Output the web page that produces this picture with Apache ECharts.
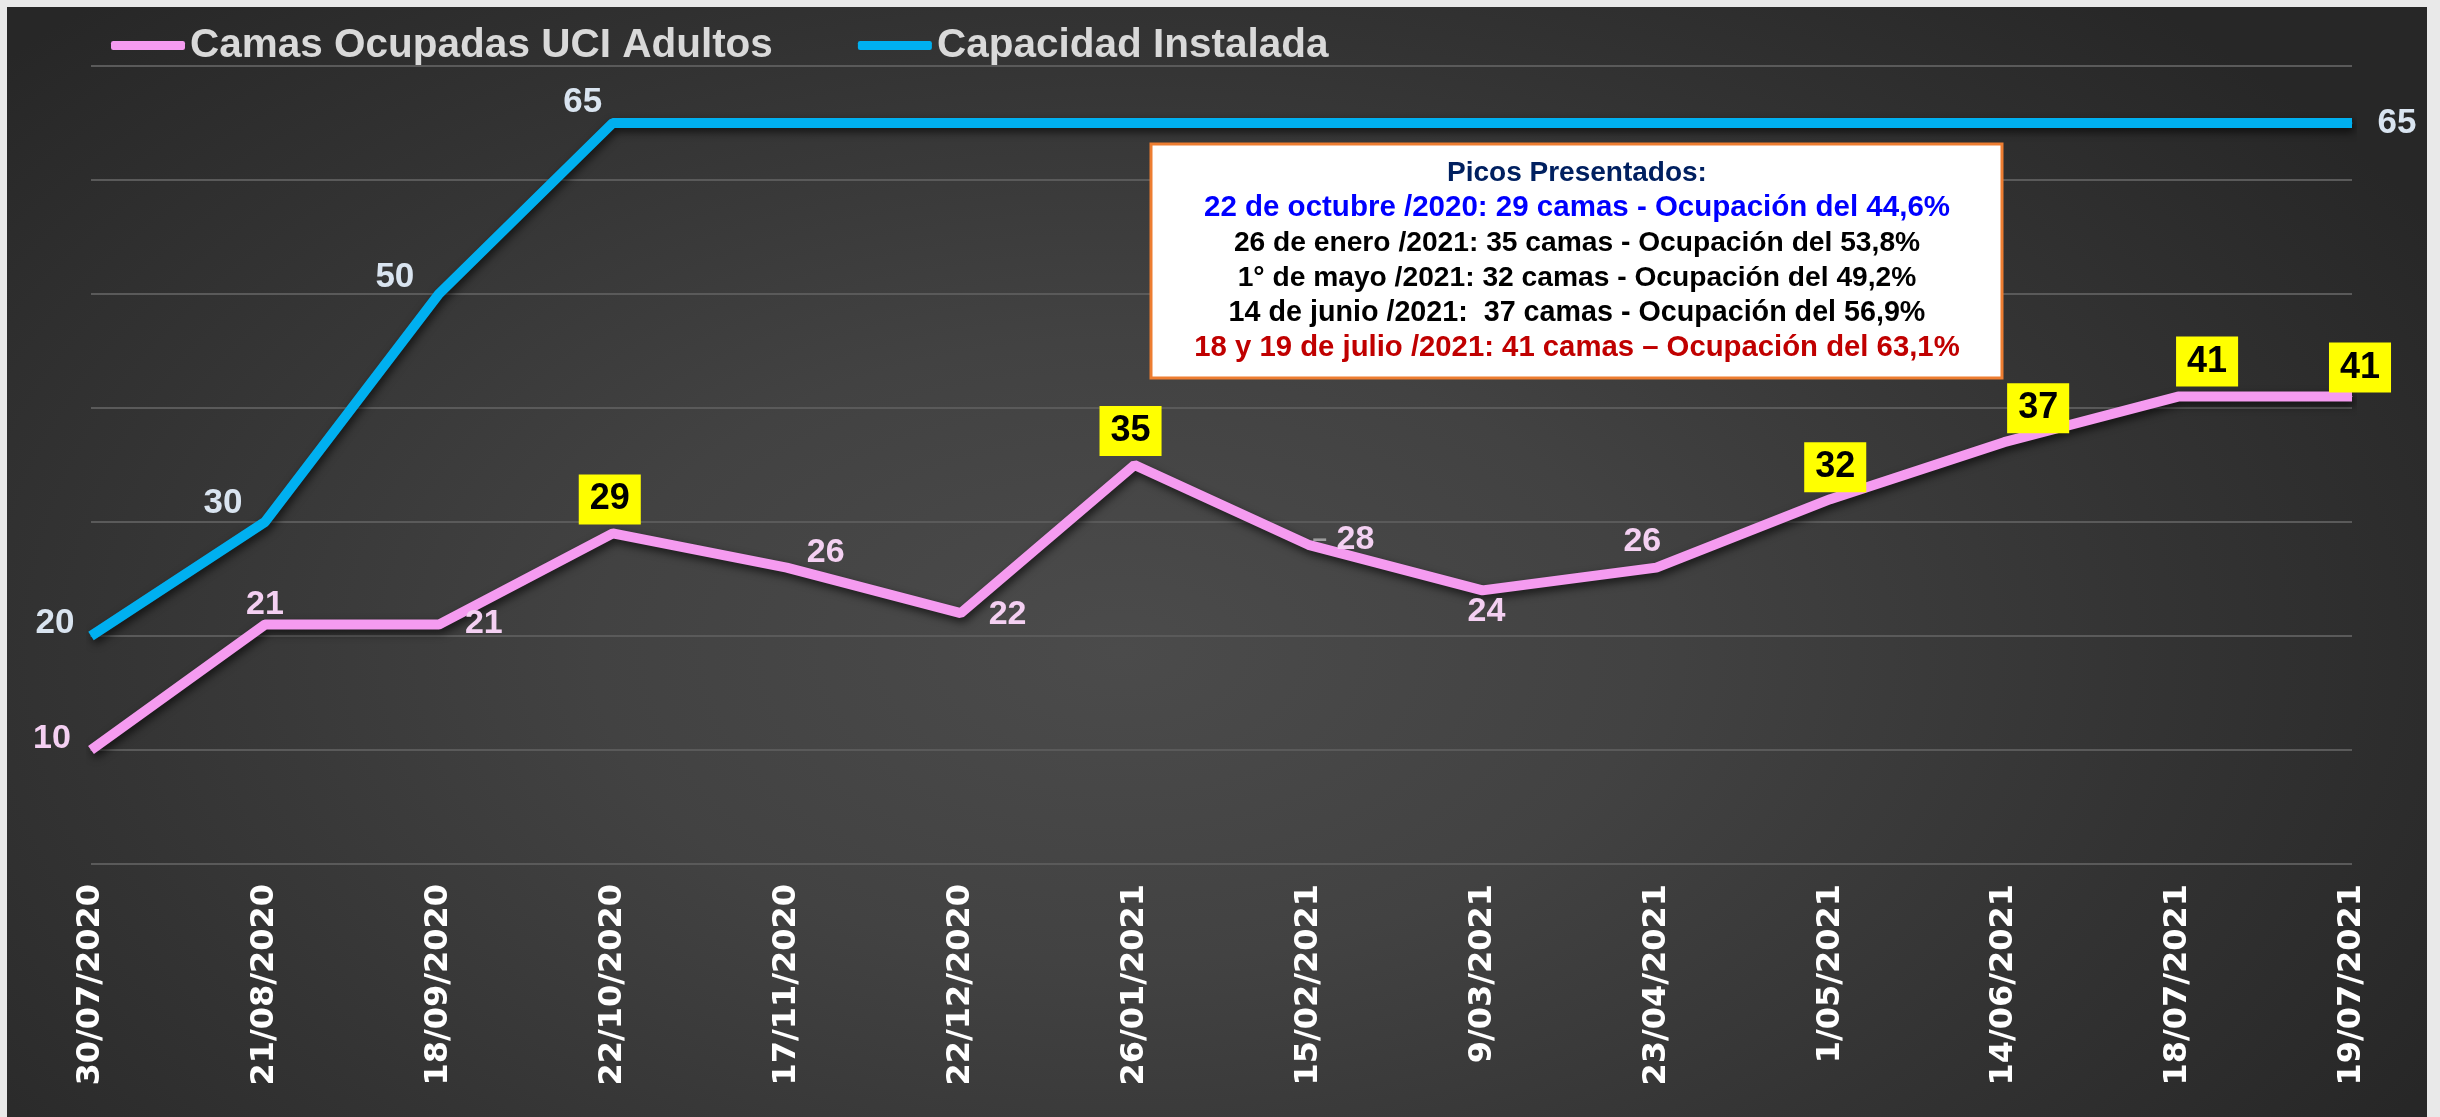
<!DOCTYPE html>
<html>
<head>
<meta charset="utf-8">
<title>Camas UCI Adultos</title>
<script src="https://cdn.jsdelivr.net/npm/echarts@6/dist/echarts.min.js"></script>
<style>
  html, body { margin: 0; padding: 0; background: #e9e9e9; }
  #wrap { position: relative; width: 2440px; height: 1117px; overflow: hidden; }
  #panel {
    position: absolute; left: 7px; top: 7px; width: 2420px; height: 1110px;
    background: radial-gradient(ellipse 62% 80% at 46% 58%, #4b4b4b 0%, #424242 35%, #333333 70%, #272727 100%);
  }
  #chart { position: absolute; left: 0; top: 0; width: 2440px; height: 1117px; }
</style>
</head>
<body>
<div id="wrap">
  <div id="panel"></div>
  <div id="chart"></div>
</div>
<script>
  // fechas del eje x
  var fechas = ['30/07/2020', '21/08/2020', '18/09/2020', '22/10/2020', '17/11/2020', '22/12/2020',
    '26/01/2021', '15/02/2021', '9/03/2021', '23/04/2021', '1/05/2021', '14/06/2021', '18/07/2021', '19/07/2021'];
  var camasOcupadas = [10, 21, 21, 29, 26, 22, 35, 28, 24, 26, 32, 37, 41, 41];
  var capacidadInstalada = [20, 30, 50, 65, 65, 65, 65, 65, 65, 65, 65, 65, 65, 65];
  // puntos con recuadro amarillo
  var picos = [3, 6, 10, 11, 12, 13];
  var picosTexto = [
    'Picos Presentados:',
    '22 de octubre /2020: 29 camas - Ocupación del 44,6%',
    '26 de enero /2021: 35 camas - Ocupación del 53,8%',
    '1° de mayo /2021: 32 camas - Ocupación del 49,2%',
    '14 de junio /2021:  37 camas - Ocupación del 56,9%',
    '18 y 19 de julio /2021: 41 camas – Ocupación del 63,1%'
  ];
  var picosColor = ['#002060', '#0000ff', '#000000', '#000000', '#000000', '#c00000'];
  var picosTam = [28, 29.5, 28.2, 28.2, 28.7, 29.3];

  // desplazamiento de etiquetas (px)
  var despOcupadas = [[-39, -11], [0, -20], [45, -1], [-3, -34], [39, -15], [47, 1], [-4, -34],
    [35, -5], [4, 21], [-14, -26], [5, -32], [34, -34], [29, -35], [8, -29]];
  var despCapacidad = [[-36, -13], [-42, -19], [-44, -17], [-30, -21], null, null, null,
    null, null, null, null, null, null, [45, 0]];

  var fuente = "'Liberation Sans', Arial, sans-serif";

  var myChart = echarts.init(document.getElementById('chart'));

  var datosOcupadas = camasOcupadas.map(function (v, i) {
    var pico = picos.indexOf(i) >= 0;
    var lbl = {
      show: true,
      position: 'inside',
      offset: despOcupadas[i],
      fontFamily: fuente,
      fontWeight: 'bold'
    };
    if (pico) {
      lbl.color = '#000';
      lbl.fontSize = 36;
      lbl.lineHeight = 36;
      lbl.backgroundColor = '#ffff00';
      lbl.padding = [7, 11];
    } else {
      lbl.color = '#f4d0f2';
      lbl.fontSize = 34;
    }
    if (i === 7) {
      lbl.formatter = '{d|–} {c}';
      lbl.rich = { d: { color: '#9c9c9c', fontSize: 26, fontWeight: 'bold', fontFamily: fuente } };
    }
    return { value: v, label: lbl };
  });

  var datosCapacidad = capacidadInstalada.map(function (v, i) {
    var d = despCapacidad[i];
    return {
      value: v,
      label: {
        show: !!d,
        position: 'inside',
        offset: d || [0, 0],
        color: '#d9e4f0',
        fontSize: 35,
        fontWeight: 'bold',
        fontFamily: fuente
      }
    };
  });

  var graficos = [{
    type: 'rect',
    shape: { x: 1151, y: 144, width: 851, height: 234 },
    style: { fill: '#ffffff', stroke: '#ed7d31', lineWidth: 3 },
    z: 10
  }];
  picosTexto.forEach(function (t, i) {
    graficos.push({
      type: 'text',
      x: 1577,
      y: 173 + i * 35,
      z: 11,
      style: {
        text: t,
        fill: picosColor[i],
        font: 'bold ' + picosTam[i] + 'px ' + fuente,
        align: 'center',
        verticalAlign: 'middle'
      }
    });
  });

  var option = {
    backgroundColor: 'transparent',
    animation: false,
    legend: {
      data: ['Camas Ocupadas UCI Adultos', 'Capacidad Instalada'],
      left: 106,
      top: 20,
      icon: 'roundRect',
      itemWidth: 74,
      itemHeight: 9,
      itemGap: 85,
      textStyle: {
        color: '#d9d9d9',
        fontSize: 40.5,
        fontWeight: 'bold',
        fontFamily: fuente
      }
    },
    grid: {
      left: 91,
      right: 88,
      top: 66,
      bottom: 253
    },
    xAxis: {
      type: 'category',
      boundaryGap: false,
      data: fechas,
      axisLine: { show: false },
      axisTick: { show: false },
      axisLabel: {
        rotate: 90,
        margin: 20,
        color: '#ffffff',
        fontSize: 32,
        fontWeight: 'bold',
        fontFamily: "'DejaVu Sans', Verdana, sans-serif"
      }
    },
    yAxis: {
      type: 'value',
      min: 0,
      max: 70,
      interval: 10,
      axisLabel: { show: false },
      axisLine: { show: false },
      axisTick: { show: false },
      splitLine: {
        show: true,
        lineStyle: { color: '#5a5a5a', width: 2 }
      }
    },
    series: [{
      name: 'Camas Ocupadas UCI Adultos',
      type: 'line',
      data: datosOcupadas,
      symbol: 'circle',
      symbolSize: 1,
      itemStyle: { color: '#f59bf0' },
      lineStyle: {
        color: '#f59bf0',
        width: 10,
        shadowColor: 'rgba(0,0,0,0.65)',
        shadowBlur: 8,
        shadowOffsetX: 2,
        shadowOffsetY: 4
      },
      z: 3
    }, {
      name: 'Capacidad Instalada',
      type: 'line',
      data: datosCapacidad,
      symbol: 'circle',
      symbolSize: 1,
      itemStyle: { color: '#00b0f0' },
      lineStyle: {
        color: '#00b0f0',
        width: 10,
        shadowColor: 'rgba(0,0,0,0.65)',
        shadowBlur: 8,
        shadowOffsetX: 2,
        shadowOffsetY: 4
      },
      z: 2
    }],
    graphic: graficos
  };

  if (option && typeof option === 'object') {
    myChart.setOption(option, true);
  }
</script>
</body>
</html>
